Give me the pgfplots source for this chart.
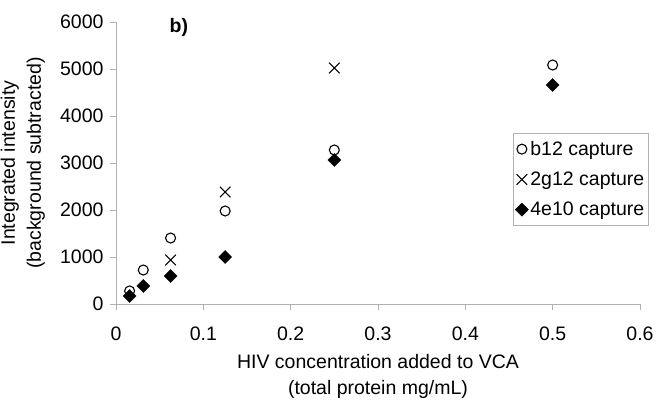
\documentclass[border=0pt]{standalone}
\usepackage{fontspec}
\setmainfont{Liberation Sans}
\usepackage{pgfplots}
\pgfplotsset{compat=1.18}

\begin{document}
\begin{tikzpicture}
\useasboundingbox (-116pt,-97pt) rectangle (546pt,304pt);
\begin{axis}[
    at={(0,0)}, anchor=south west,
    scale only axis,
    width=524pt, height=282pt,
    xmin=0, xmax=0.6,
    ymin=0, ymax=6000,
    xtick={0,0.1,0.2,0.3,0.4,0.5,0.6},
    ytick={0,1000,2000,3000,4000,5000,6000},
    axis x line*=bottom,
    axis y line*=left,
    axis line style={color=black!30, line width=0.8pt},
    tick style={color=black!30, line width=0.8pt},
    tick align=outside,
    major tick length=6pt,
    /pgf/number format/assume math mode=true,
    /pgf/number format/1000 sep={},
    /pgf/number format/fixed,
    tick label style={font=\fontsize{19.5}{22}\selectfont},
    xticklabel style={yshift=-13pt},
    yticklabel style={xshift=-3pt},
    xlabel={HIV concentration added to VCA\\(total protein mg/mL)},
    ylabel={Integrated intensity\\(background subtracted)},
    label style={font=\fontsize{19.5}{26}\selectfont, align=center, inner sep=0pt},
    xlabel style={at={(axis description cs:0.5,0)}, anchor=north, yshift=-50pt},
    ylabel style={at={(axis description cs:-0.1355,0.5)}, anchor=south},
    legend style={at={(0.758,0.606)}, anchor=north west,
        draw=black!30, font=\fontsize{19.5}{23}\selectfont,
        inner xsep=2pt, inner ysep=6pt, row sep=11pt,
        cells={anchor=west}},
    legend cell align=left,
    legend image code/.code={\draw[mark repeat=2,mark phase=2,#1]
        plot coordinates {(0pt,0pt)(5pt,0pt)(10pt,0pt)};},
    clip=false,
]

% b12 capture
\addplot[only marks, mark=o, mark size=5pt, line width=1.1pt, black] coordinates {
    (0.0156, 277) (0.03125, 723) (0.0625, 1404) (0.125, 1979) (0.25, 3277) (0.5, 5085)
};

% 2g12 capture
\addplot[only marks, mark=x, mark size=7.5pt, line width=1pt, black] coordinates {
    (0.0625, 936) (0.125, 2383) (0.25, 5021)
};

% 4e10 capture
\addplot[only marks, mark=square*, mark size=4.6pt, mark options={rotate=45}, black] coordinates {
    (0.0156, 170) (0.03125, 383) (0.0625, 596) (0.125, 1000) (0.25, 3064) (0.5, 4660)
};

\legend{b12 capture, 2g12 capture, 4e10 capture}

\node[font=\bfseries\fontsize{19.5}{23}\selectfont] at (axis cs:0.072,5890) {b)};
\end{axis}
\end{tikzpicture}
\end{document}
